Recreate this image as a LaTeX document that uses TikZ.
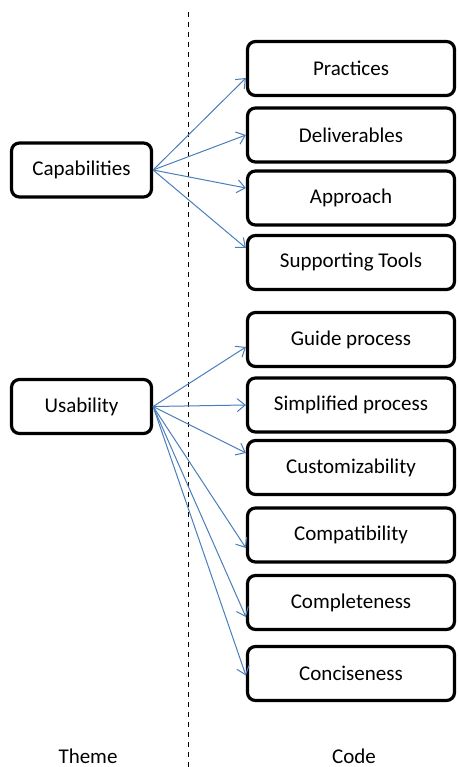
\documentclass[tikz,border=0pt]{standalone}
\usepackage{fontspec}
\setmainfont{Carlito}
\usetikzlibrary{arrows.meta,calc}
\definecolor{linkblue}{RGB}{74,126,187}
\begin{document}
\begin{tikzpicture}[x=1pt,y=-1pt,
  box/.style={draw=black,line width=3.2pt,rounded corners=8pt,fill=white,
    minimum height=54pt,inner sep=0pt,font=\fontsize{21}{25}\selectfont},
  theme/.style={box,minimum width=140pt},
  codebox/.style={box,minimum width=207pt},
  link/.style={draw=linkblue,line width=1pt,-{Straight Barb[length=8pt,width=13pt]}},
  caption/.style={anchor=base,inner sep=0pt,font=\fontsize{21}{25}\selectfont}]
\useasboundingbox (0,0) rectangle (457,767);

% divider between themes and codes
\coordinate (dtop) at (188,12);
\coordinate (dbot) at (188,770);
\draw[line width=1pt,dash pattern=on 5pt off 5pt] (dtop) -- (dbot);

% themes
\node[theme] (cap) at (81.5,170) {Capabilities};
\node[theme] (usa) at (81.5,406.5) {Usability};

% codes
\node[codebox] (prac) at (351,68.5)  {Practices};
\node[codebox] (deli) at (351,135)   {Deliverables};
\node[codebox] (appr) at (351,198)   {Approach};
\node[codebox] (tool) at (351,262.5) {Supporting Tools};
\node[codebox] (guid) at (351,339.5) {Guide process};
\node[codebox] (simp) at (351,405)   {Simplified process};
\node[codebox] (cust) at (351,467.5) {Customizability};
\node[codebox] (comp) at (351,535)   {Compatibility};
\node[codebox] (cplt) at (351,602.5) {Completeness};
\node[codebox] (conc) at (351,673.5) {Conciseness};

% links from themes to codes
\draw[link] (cap.east) -- ($(prac.west)+(0,9.5)$);
\draw[link] (cap.east) -- (deli.west);
\draw[link] (cap.east) -- ($(appr.west)+(0,-10)$);
\draw[link] (cap.east) -- ($(tool.west)+(0,-14.5)$);

\draw[link] (usa.east) -- ($(guid.west)+(0,7.5)$);
\draw[link] (usa.east) -- (simp.west);
\draw[link] (usa.east) -- ($(cust.west)+(0,-14.5)$);
\draw[link] (usa.east) -- ($(comp.west)+(0,13)$);
\draw[link] (usa.east) -- ($(cplt.west)+(0,14.5)$);
\draw[link] (usa.east) -- ($(conc.west)+(0,2)$);

% column captions
\node[caption] (lblTheme) at (88,763) {Theme};
\node[caption] (lblCode) at (354,763) {Code};
\end{tikzpicture}
\end{document}
